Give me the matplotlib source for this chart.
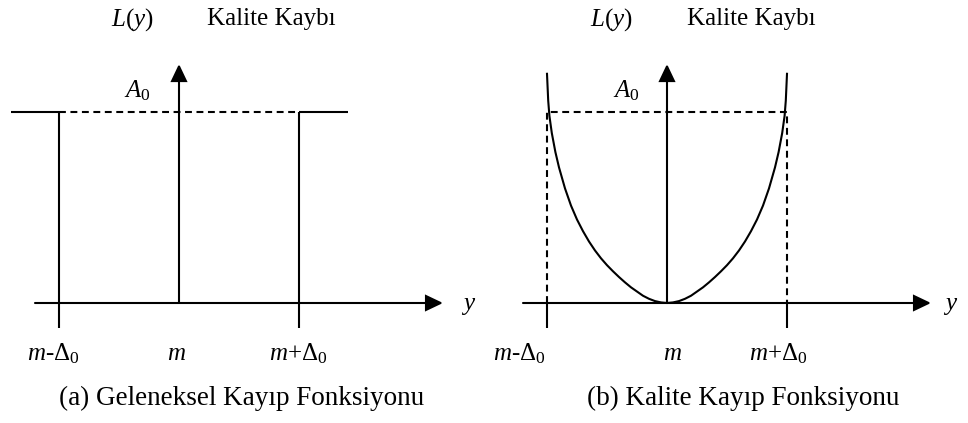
import matplotlib
matplotlib.use("Agg")
import matplotlib.pyplot as plt
import numpy as np

plt.rcParams['font.family'] = ['Liberation Serif', 'DejaVu Serif']
plt.rcParams['mathtext.fontset'] = 'custom'
plt.rcParams['mathtext.rm'] = 'Liberation Serif'
plt.rcParams['mathtext.it'] = 'Liberation Serif:italic'
plt.rcParams['mathtext.bf'] = 'Liberation Serif:bold'

# ---- data (units: m = 0, Delta0 = 1, A0 = 1) ----
m_val = 0.0
delta0 = 1.0
A0 = 1.0
tick_positions = [m_val - delta0, m_val, m_val + delta0]
tick_labels = ['$m$-$\\Delta_0$', '$m$', '$m$+$\\Delta_0$']
ylabel_text = '$L(y)$'
ytitle_text = 'Kalite Kaybı'
a0_label = '$A_0$'
xaxis_label = '$y$'
captions = ['(a) Geleneksel Kayıp Fonksiyonu', '(b) Kalite Kayıp Fonksiyonu']

# quality loss curve (right branch, mirrored)
curve_u = [0.0, 0.05, 0.1, 0.15, 0.2, 0.25, 0.3, 0.35, 0.4, 0.45, 0.5, 0.55,
           0.6, 0.65, 0.7, 0.75, 0.8, 0.85, 0.9, 0.93, 0.96, 0.98, 0.99, 1.0]
curve_v = [0.0, 0.003, 0.01, 0.022, 0.038, 0.06, 0.082, 0.108, 0.136, 0.166,
           0.198, 0.234, 0.275, 0.322, 0.376, 0.437, 0.51, 0.6, 0.71, 0.79,
           0.89, 0.98, 1.06, 1.2]

# ---- layout ----
LW = 1.5
FS = 18
CAP_FS = 19.5
XL = -1.2          # axis start
XT = 2.2           # x arrow tip
YT = 1.251         # y arrow tip
TICK_LOW = -0.131
DASH = (3.3, 2.2)

fig = plt.figure(figsize=(9.68, 4.23), dpi=100)
ax1 = fig.add_axes([0, 0, 0.5, 1])
ax2 = fig.add_axes([0.5, 0, 0.5, 1])
ax1.set_xlim(-179 / 120, (484 - 179) / 120)
ax2.set_xlim(-(667 - 484) / 120, (968 - 667) / 120)
for ax in (ax1, ax2):
    ax.set_ylim(-(423 - 303) / 191, 303 / 191)
    ax.axis('off')

arrow_style = '-|>,head_length=1.05,head_width=0.5'


def draw_axes(ax):
    ax.annotate('', xy=(m_val + XT, 0), xytext=(m_val + XL, 0),
                arrowprops=dict(arrowstyle=arrow_style, mutation_scale=10,
                                lw=LW, color='k', shrinkA=0, shrinkB=0,
                                joinstyle='miter'))
    ax.annotate('', xy=(m_val, YT), xytext=(m_val, 0),
                arrowprops=dict(arrowstyle=arrow_style, mutation_scale=10,
                                lw=LW, color='k', shrinkA=0, shrinkB=0,
                                joinstyle='miter'))


# ---- panel (a): traditional step loss ----
draw_axes(ax1)
ax1.plot([m_val - 1.4, m_val - delta0], [A0, A0], color='k', lw=LW, solid_capstyle='butt')
ax1.plot([m_val + delta0, m_val + 1.408], [A0, A0], color='k', lw=LW, solid_capstyle='butt')
ln, = ax1.plot([m_val - delta0, m_val + delta0], [A0, A0], color='k', lw=LW)
ln.set_dashes(DASH)
for xp in (m_val - delta0, m_val + delta0):
    ax1.plot([xp, xp], [TICK_LOW, A0], color='k', lw=LW, solid_capstyle='butt')

# ---- panel (b): quadratic quality loss ----
draw_axes(ax2)
cu = np.array(curve_u)
cv = np.array(curve_v)
xs = np.concatenate([m_val - cu[::-1] * delta0, m_val + cu[1:] * delta0])
ys = np.concatenate([cv[::-1], cv[1:]]) * A0
ax2.plot(xs, ys, color='k', lw=LW, solid_joinstyle='round')
ln2, = ax2.plot([m_val - delta0, m_val - delta0, m_val + delta0, m_val + delta0],
                [0, A0, A0, 0], color='k', lw=LW)
ln2.set_dashes(DASH)
for xp in (m_val - delta0, m_val + delta0):
    ax2.plot([xp, xp], [TICK_LOW, 0], color='k', lw=LW, solid_capstyle='butt')

# ---- text ----
text_pos = {
    ax1: dict(ly=-0.392, kk=0.767, a0=-0.35, yl=2.41,
              ticks=[-1.05, -0.025, 0.99], cap=0.525),
    ax2: dict(ly=-0.467, kk=0.70, a0=-0.342, yl=2.367,
              ticks=[-1.233, 0.042, 0.925], cap=0.633),
}
for ax, (p, cap) in zip((ax1, ax2), zip(text_pos.values(), captions)):
    ax.text(p['ly'], 1.455, ylabel_text, ha='center', va='baseline', fontsize=FS)
    ax.text(p['kk'], 1.455, ytitle_text, ha='center', va='baseline', fontsize=FS)
    ax.text(p['a0'], 1.079, a0_label, ha='center', va='baseline', fontsize=FS)
    ax.text(p['yl'], -0.037, xaxis_label, ha='center', va='baseline', fontsize=FS)
    for tx, lab in zip(p['ticks'], tick_labels):
        ax.text(tx, -0.298, lab, ha='center', va='baseline', fontsize=FS)
    ax.text(p['cap'], -0.534, cap, ha='center', va='baseline', fontsize=CAP_FS)

fig.savefig('out.png', dpi=100)
